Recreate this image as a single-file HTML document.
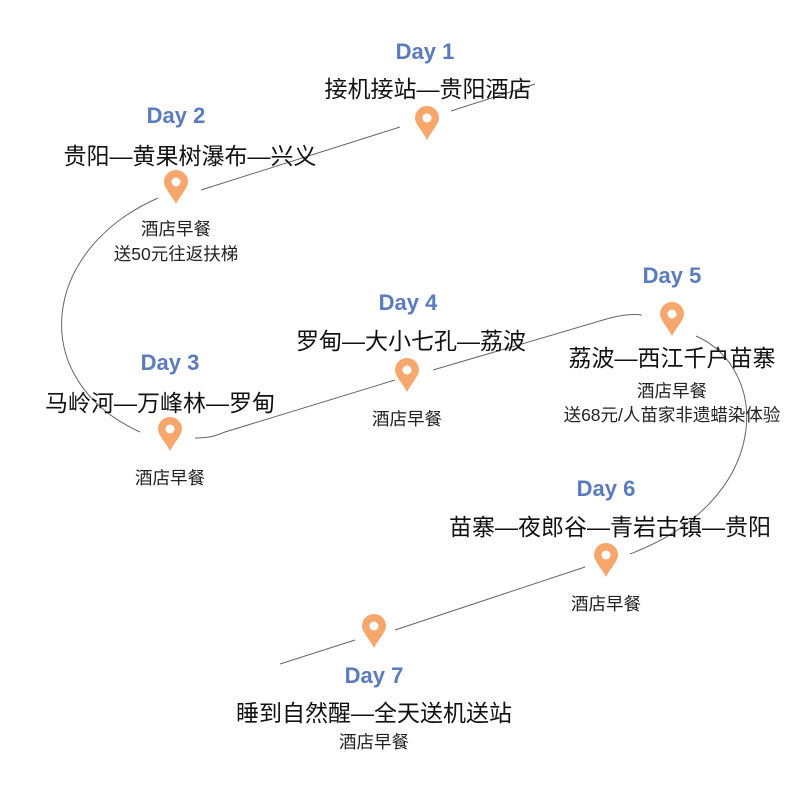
<!DOCTYPE html>
<html><head><meta charset="utf-8"><style>
html,body{margin:0;padding:0;background:#fff;}
svg{display:block;}
.d{font-family:"Liberation Sans","Noto Sans CJK SC",sans-serif;font-weight:bold;font-size:22px;fill:#5b7bbf;text-anchor:middle;}
.t{font-family:"Liberation Sans","Noto Sans CJK SC",sans-serif;font-size:23px;fill:#111;text-anchor:middle;}
.s{font-family:"Liberation Sans","Noto Sans CJK SC",sans-serif;font-size:17.5px;fill:#222;text-anchor:middle;}
.l{fill:none;stroke:#666;stroke-width:1;}
</style></head><body>
<svg width="800" height="800" viewBox="0 0 800 800">
<defs>
<g id="pin">
<path d="M0,16 C-4,8 -12,0 -12,-6 A12,12 0 0 1 12,-6 C12,0 4,8 0,16 Z" fill="#f7a66c"/>
<circle cx="0" cy="-6" r="4.5" fill="#fff"/>
</g>
</defs>
<path class="l" d="M451,111 L535,84"/>
<path class="l" d="M400,127 L201,190"/>
<path class="l" d="M158,198 C40,250 26,380 140,432"/>
<path class="l" d="M195,438 C210,438 215,436 225,432 L395,380"/>
<path class="l" d="M433,370 L610,318 C625,314 635,314 642,315"/>
<path class="l" d="M696,336 C772,370 772,500 630,554"/>
<path class="l" d="M585,567 L395,630"/>
<path class="l" d="M355,640 L280,664"/>

<use href="#pin" x="427" y="124"/>
<use href="#pin" x="176" y="188"/>
<use href="#pin" x="170" y="435"/>
<use href="#pin" x="407" y="376"/>
<use href="#pin" x="672" y="320"/>
<use href="#pin" x="606" y="561"/>
<use href="#pin" x="374" y="632"/>

<text class="d" x="425" y="59">Day 1</text>
<text class="t" x="428" y="97">接机接站—贵阳酒店</text>

<text class="d" x="176" y="123">Day 2</text>
<text class="t" x="190" y="164">贵阳—黄果树瀑布—兴义</text>
<text class="s" x="176" y="235">酒店早餐</text>
<text class="s" x="176" y="260">送50元往返扶梯</text>

<text class="d" x="170" y="370">Day 3</text>
<text class="t" x="160" y="411">马岭河—万峰林—罗甸</text>
<text class="s" x="170" y="484">酒店早餐</text>

<text class="d" x="408" y="310">Day 4</text>
<text class="t" x="411" y="349">罗甸—大小七孔—荔波</text>
<text class="s" x="407" y="425">酒店早餐</text>

<text class="d" x="672" y="283">Day 5</text>
<text class="t" x="672" y="366">荔波—西江千户苗寨</text>
<text class="s" x="672" y="397">酒店早餐</text>
<text class="s" x="672" y="421">送68元/人苗家非遗蜡染体验</text>

<text class="d" x="606" y="496">Day 6</text>
<text class="t" x="610" y="535">苗寨—夜郎谷—青岩古镇—贵阳</text>
<text class="s" x="606" y="610">酒店早餐</text>

<text class="d" x="374" y="683">Day 7</text>
<text class="t" x="374" y="721">睡到自然醒—全天送机送站</text>
<text class="s" x="374" y="748">酒店早餐</text>
</svg>
</body></html>
